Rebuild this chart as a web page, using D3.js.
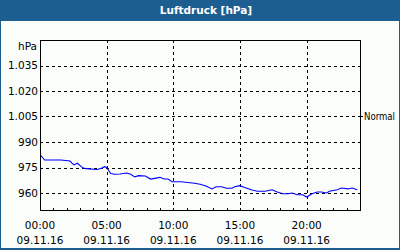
<!DOCTYPE html>
<html>
<head>
<meta charset="utf-8">
<script src="https://cdn.jsdelivr.net/npm/d3@7"></script>
<style>
  body { margin: 0; }
  svg { display: block; font-family: 'DejaVu Sans', sans-serif; }
</style>
</head>
<body>
<div id="chart"></div>
<script>
// hours since 00:00 on 09.11.16
const hours = [0.05, 0.35, 1.57, 2.25, 2.4, 2.55, 2.8, 3.1, 3.3, 3.7, 4.0, 4.3, 4.6, 4.85, 5.0,
  5.3, 5.6, 6.0, 6.5, 6.8, 7.1, 7.4, 7.9, 8.3, 8.6, 9.0, 9.3, 9.6, 9.9, 10.6, 10.9, 11.6,
  12.0, 12.4, 12.9, 13.2, 13.6, 14.0, 14.4, 14.6, 15.0, 15.3, 15.9, 16.3, 16.9, 17.4, 17.8,
  18.2, 18.6, 18.9, 19.3, 19.7, 20.0, 20.4, 20.8, 21.1, 21.5, 21.7, 22.3, 22.6, 23.1, 23.4, 23.8]
const pressure = [982.2, 979.4, 979.4, 978.8, 977.6, 976.5, 977.5, 975.5, 974.5, 974.2, 974.0, 973.8, 974.5, 975.5, 975.0,
  971.5, 971.0, 971.2, 971.8, 971.0, 969.5, 970.2, 970.0, 968.2, 968.6, 969.2, 968.2, 968.2, 966.6, 966.6, 966.3, 965.7,
  965.1, 964.3, 962.4, 963.7, 963.7, 962.8, 962.8, 963.7, 964.3, 963.4, 961.8, 961.0, 961.0, 961.9, 960.6,
  959.6, 959.6, 960.0, 959.0, 959.0, 957.6, 959.6, 960.6, 960.6, 960.0, 961.0, 961.9, 962.9, 962.4, 962.9, 961.9]

const yTicks = [960, 975, 990, 1005, 1020, 1035]
const xTicks = [0, 5, 10, 15, 20]
const xTickLabels = ['00:00', '05:00', '10:00', '15:00', '20:00']
const dateLabel = '09.11.16'
const normalValue = 1005
const title = 'Luftdruck [hPa]'

const width = 400
const height = 250
const margin = { top: 40, left: 40, right: 40, bottom: 40 }
const frameColor = '#1d5e91'

const de = d3.formatLocale({ decimal: ',', thousands: '.', grouping: [3], currency: ['', '€'] })
const fmt = de.format(',')

const svg = d3.select('#chart')
  .append('svg')
  .attr('width', width)
  .attr('height', height)

svg.append('rect')
  .attr('width', width)
  .attr('height', height)
  .attr('fill', frameColor)

svg.append('rect')
  .attr('x', 1)
  .attr('y', 21)
  .attr('width', width - 2)
  .attr('height', 227)
  .attr('fill', '#fafdfa')

svg.append('text')
  .attr('x', 206)
  .attr('y', 14)
  .attr('text-anchor', 'middle')
  .attr('fill', 'white')
  .style('font-weight', 'bold')
  .style('font-size', '10.5px')
  .text(title)

const x = d3.scaleLinear().domain([0, 24]).range([margin.left, width - margin.right])
const y = d3.scaleLinear().domain([950, 1050]).range([height - margin.bottom, margin.top])

// dashed grid
const grid = svg.append('g')
  .attr('stroke', 'black')
  .attr('stroke-dasharray', '3,3')
  .attr('shape-rendering', 'crispEdges')

grid.selectAll('.hgrid')
  .data(yTicks)
  .enter()
  .append('line')
  .attr('x1', x(0))
  .attr('x2', x(24))
  .attr('y1', d => Math.round(y(d)) + 0.5)
  .attr('y2', d => Math.round(y(d)) + 0.5)

grid.selectAll('.vgrid')
  .data(xTicks.slice(1))
  .enter()
  .append('line')
  .attr('y1', y(1050))
  .attr('y2', y(950))
  .attr('x1', d => Math.round(x(d)) + 0.5)
  .attr('x2', d => Math.round(x(d)) + 0.5)

// pressure line
const line = d3.line()
  .x((d, i) => x(hours[i]))
  .y(d => y(d))

svg.append('path')
  .datum(pressure)
  .attr('d', line)
  .attr('fill', 'none')
  .attr('stroke', '#0000ff')
  .attr('stroke-width', 1.1)

// frame of the plot
svg.append('rect')
  .attr('x', x(0) + 0.5)
  .attr('y', y(1050) + 0.5)
  .attr('width', x(24) - x(0))
  .attr('height', y(950) - y(1050))
  .attr('fill', 'none')
  .attr('stroke', 'black')
  .attr('shape-rendering', 'crispEdges')

// hourly ticks on bottom axis
svg.append('g')
  .attr('stroke', 'black')
  .attr('shape-rendering', 'crispEdges')
  .selectAll('line')
  .data(d3.range(1, 24))
  .enter()
  .append('line')
  .attr('x1', d => Math.round(x(d)) + 0.5)
  .attr('x2', d => Math.round(x(d)) + 0.5)
  .attr('y1', y(950) - 2)
  .attr('y2', y(950))

// y labels
svg.selectAll('.ylabel')
  .data(yTicks)
  .enter()
  .append('text')
  .attr('x', 38)
  .attr('y', d => y(d))
  .attr('dy', '0.35em')
  .attr('text-anchor', 'end')
  .style('font-size', '10.5px')
  .text(d => fmt(d))

svg.append('text')
  .attr('x', 37)
  .attr('y', 46)
  .attr('dy', '0.35em')
  .attr('text-anchor', 'end')
  .style('font-size', '10.5px')
  .text('hPa')

// x labels
const xl = svg.selectAll('.xlabel')
  .data(xTicks)
  .enter()
  .append('text')
  .attr('text-anchor', 'middle')
  .style('font-size', '10.5px')
  .attr('x', d => x(d))

xl.append('tspan').attr('x', d => x(d)).attr('y', 229).text((d, i) => xTickLabels[i])
xl.append('tspan').attr('x', d => x(d)).attr('y', 244).text(dateLabel)

// normal marker on right axis
svg.append('line')
  .attr('x1', x(24) - 1)
  .attr('x2', x(24) + 3)
  .attr('y1', Math.round(y(normalValue)) + 0.5)
  .attr('y2', Math.round(y(normalValue)) + 0.5)
  .attr('stroke', 'black')
  .attr('shape-rendering', 'crispEdges')

svg.append('text')
  .attr('x', 364)
  .attr('y', y(normalValue))
  .attr('dy', '0.35em')
  .style('font-size', '10px')
  .attr('textLength', 31)
  .attr('lengthAdjust', 'spacingAndGlyphs')
  .text('Normal')
</script>
</body>
</html>
